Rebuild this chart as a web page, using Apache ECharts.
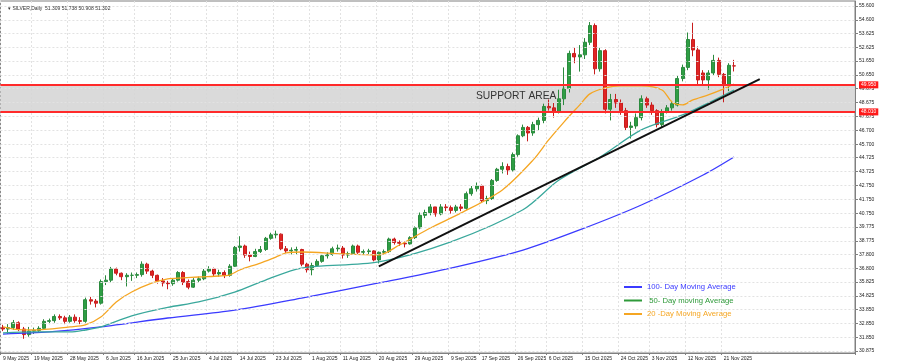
<!DOCTYPE html>
<html><head><meta charset="utf-8">
<script src="https://cdn.jsdelivr.net/npm/echarts@6/dist/echarts.min.js"></script>
<style>html,body{margin:0;padding:0;background:#fff}#c{width:900px;height:363px}</style>
</head><body><div id="c"></div><script>
// ---- categories (trading days) ----
const dates = [
'2025-05-09',
'2025-05-12','2025-05-13','2025-05-14','2025-05-15','2025-05-16',
'2025-05-19','2025-05-20','2025-05-21','2025-05-22','2025-05-23',
'2025-05-26','2025-05-27','2025-05-28','2025-05-29','2025-05-30',
'2025-06-02','2025-06-03','2025-06-04','2025-06-05','2025-06-06',
'2025-06-09','2025-06-10','2025-06-11','2025-06-12','2025-06-13',
'2025-06-16','2025-06-17','2025-06-18','2025-06-19','2025-06-20',
'2025-06-23','2025-06-24','2025-06-25','2025-06-26','2025-06-27',
'2025-06-30','2025-07-01','2025-07-02','2025-07-03','2025-07-04',
'2025-07-07','2025-07-08','2025-07-09','2025-07-10','2025-07-11',
'2025-07-14','2025-07-15','2025-07-16','2025-07-17','2025-07-18',
'2025-07-21','2025-07-22','2025-07-23','2025-07-24','2025-07-25',
'2025-07-28','2025-07-29','2025-07-30','2025-07-31','2025-08-01',
'2025-08-04','2025-08-05','2025-08-06','2025-08-07','2025-08-08',
'2025-08-11','2025-08-12','2025-08-13','2025-08-14','2025-08-15',
'2025-08-18','2025-08-19','2025-08-20','2025-08-21','2025-08-22',
'2025-08-25','2025-08-26','2025-08-27','2025-08-28','2025-08-29',
'2025-09-01','2025-09-02','2025-09-03','2025-09-04','2025-09-05',
'2025-09-08','2025-09-09','2025-09-10','2025-09-11','2025-09-12',
'2025-09-15','2025-09-16','2025-09-17','2025-09-18','2025-09-19',
'2025-09-22','2025-09-23','2025-09-24','2025-09-25','2025-09-26',
'2025-09-29','2025-09-30','2025-10-01','2025-10-02','2025-10-03',
'2025-10-06','2025-10-07','2025-10-08','2025-10-09','2025-10-10',
'2025-10-13','2025-10-14','2025-10-15','2025-10-16','2025-10-17',
'2025-10-20','2025-10-21','2025-10-22','2025-10-23','2025-10-24',
'2025-10-27','2025-10-28','2025-10-29','2025-10-30','2025-10-31',
'2025-11-03','2025-11-04','2025-11-05','2025-11-06','2025-11-07',
'2025-11-10','2025-11-11','2025-11-12','2025-11-13','2025-11-14',
'2025-11-17','2025-11-18','2025-11-19','2025-11-20','2025-11-21',
'2025-11-24','2025-11-25'];
// empty space on the right of the chart (chart shift)
const futureDates = [
'2025-11-26','2025-11-27','2025-11-28',
'2025-12-01','2025-12-02','2025-12-03','2025-12-04','2025-12-05',
'2025-12-08','2025-12-09','2025-12-10','2025-12-11','2025-12-12',
'2025-12-15','2025-12-16','2025-12-17','2025-12-18','2025-12-19',
'2025-12-22','2025-12-23','2025-12-24','2025-12-25','2025-12-26'];
const xLabelDates = ['2025-05-09','2025-05-19','2025-05-28','2025-06-06','2025-06-16','2025-06-25',
'2025-07-04','2025-07-14','2025-07-23','2025-08-01','2025-08-11','2025-08-20','2025-08-29',
'2025-09-09','2025-09-17','2025-09-26','2025-10-06','2025-10-15','2025-10-24','2025-11-03',
'2025-11-12','2025-11-21'];
const yTicks = [30.875,31.850,32.850,33.850,34.825,35.825,36.800,37.800,38.775,39.775,40.750,41.750,
42.750,43.725,44.725,45.700,46.700,47.675,48.675,49.675,50.650,51.650,52.625,53.625,54.600,55.600];

// ---- OHLC: [open, close, low, high] ----
const candles = [
[32.55,32.45,32.30,32.75],
[32.45,32.55,32.10,32.80],[32.55,32.90,32.40,33.10],[32.90,32.45,32.30,33.00],[32.45,32.05,31.75,32.60],[32.05,32.30,31.90,32.60],
[32.30,32.35,32.10,32.55],[32.35,32.50,32.20,32.65],[32.50,33.00,32.40,33.15],[33.00,33.05,32.80,33.20],[33.05,33.35,32.90,33.50],
[33.35,33.25,33.10,33.50],[33.25,33.00,32.80,33.40],[33.00,33.30,32.90,33.45],[33.30,33.05,32.90,33.50],[33.05,33.00,32.80,33.30],
[33.00,34.55,32.90,34.70],[34.55,34.45,34.20,34.75],[34.45,34.30,34.00,34.60],[34.30,35.85,34.20,36.00],[35.85,35.95,35.60,36.30],
[35.95,36.75,35.80,36.90],[36.75,36.45,36.30,36.85],[36.45,36.20,35.95,36.50],[36.20,36.30,35.50,36.45],[36.30,36.30,35.90,36.50],
[36.30,36.35,36.10,36.50],[36.35,37.10,36.20,37.30],[37.10,36.60,36.40,37.20],[36.60,36.30,36.10,36.70],[36.30,35.90,35.70,36.35],
[35.90,35.75,35.50,36.10],[35.75,35.70,35.30,35.90],[35.70,35.95,35.55,36.10],[35.95,36.50,35.85,36.60],[36.50,35.80,35.60,36.60],
[35.85,35.45,35.30,36.00],[35.45,35.95,35.40,36.10],[35.95,36.05,35.80,36.20],[36.05,36.60,35.95,36.75],[36.60,36.75,36.50,36.95],
[36.75,36.40,36.20,36.85],[36.40,36.50,36.20,36.70],[36.50,36.30,36.10,36.65],[36.30,36.95,36.20,37.10],[36.95,38.30,36.90,38.40],
[38.30,38.40,38.00,39.10],[38.40,37.75,37.55,38.50],[37.75,37.65,37.30,38.00],[37.65,38.00,37.60,38.20],[38.00,38.15,37.90,38.40],
[38.15,38.95,38.05,39.05],[38.95,39.20,38.85,39.35],[39.20,39.25,38.95,39.50],[39.25,38.20,38.10,39.30],[38.20,38.05,37.90,38.40],
[38.05,38.10,37.80,38.30],[38.10,38.15,37.80,38.35],[38.15,37.10,36.95,38.20],[37.10,36.70,36.50,37.20],[36.70,37.00,36.30,37.20],
[37.00,37.30,36.90,37.45],[37.30,37.70,37.20,37.80],[37.70,37.80,37.50,37.95],[37.80,38.20,37.70,38.35],[38.20,38.25,38.00,38.50],
[38.25,37.75,37.50,38.40],[37.75,37.85,37.55,38.00],[37.85,38.40,37.80,38.50],[38.40,37.95,37.80,38.50],[37.95,38.00,37.80,38.15],
[38.00,38.05,37.80,38.20],[38.05,37.40,37.30,38.10],[37.40,37.95,37.15,38.00],[37.95,38.00,37.80,38.15],[38.00,38.90,37.90,39.00],
[38.90,38.65,38.50,39.00],[38.65,38.60,38.40,38.80],[38.60,38.55,38.30,38.75],[38.55,39.00,38.50,39.10],[39.00,39.70,38.90,39.80],
[39.70,40.60,39.60,40.80],[40.60,40.80,40.40,41.00],[40.80,41.20,40.60,41.40],[41.20,40.70,40.50,41.20],[40.70,41.20,40.60,41.40],
[41.20,41.15,40.90,41.40],[41.15,40.95,40.70,41.30],[40.95,41.20,40.80,41.35],[41.20,41.10,40.90,41.40],[41.10,42.15,41.00,42.30],
[42.15,42.50,42.00,42.70],[42.50,42.70,42.30,42.95],[42.70,41.65,41.50,42.80],[41.65,41.80,41.40,42.00],[41.80,43.10,41.70,43.20],
[43.10,43.90,43.00,44.00],[43.90,44.10,43.60,44.40],[44.10,43.85,43.50,44.30],[43.85,44.95,43.70,45.10],[44.95,46.30,44.80,46.40],
[46.30,46.90,46.20,47.10],[46.90,46.50,45.90,47.00],[46.50,47.10,46.30,47.30],[47.10,47.40,46.70,47.60],[47.40,48.40,47.20,48.60],
[48.40,48.30,48.10,48.90],[48.30,48.00,47.60,48.70],[48.00,48.95,47.90,49.60],[48.95,49.70,48.50,51.20],[49.70,52.20,49.40,52.40],
[52.20,51.95,51.50,52.60],[51.95,52.10,50.90,52.80],[52.10,53.00,51.80,53.30],[53.00,54.20,52.80,54.45],[54.20,51.10,50.70,54.35],
[51.10,52.40,50.90,52.60],[52.40,48.20,47.90,52.50],[48.20,48.90,47.40,49.30],[48.90,48.65,48.30,49.30],[48.65,48.10,47.80,48.90],
[48.10,46.90,46.70,48.30],[46.90,47.00,46.10,47.30],[47.00,47.60,46.80,47.90],[47.60,48.95,47.40,49.20],[48.95,48.50,48.30,49.10],
[48.50,48.10,47.80,48.70],[48.10,47.10,46.90,48.20],[47.10,48.00,46.90,48.20],[48.00,48.30,47.90,48.50],[48.30,48.60,48.10,48.80],
[48.50,50.40,48.40,50.60],[50.40,51.20,50.20,51.40],[51.20,53.20,51.00,53.70],[53.20,52.45,52.00,54.40],[52.45,50.30,49.90,52.70],
[50.80,50.30,50.00,51.00],[50.30,50.80,49.60,51.00],[50.80,51.70,50.60,52.10],[51.70,50.70,50.50,51.90],[50.70,49.95,48.70,50.80],
[49.95,51.35,49.50,51.50],[51.309,51.302,50.908,51.738]];

// ---- moving averages: [date, value] ----
const ma20 = [['2025-05-09',32.60],['2025-05-14',32.40],['2025-05-19',32.38],['2025-05-28',32.60],['2025-06-02',32.74],
['2025-06-05',33.31],['2025-06-10',34.39],['2025-06-13',35.10],['2025-06-19',35.75],['2025-06-24',36.04],['2025-06-27',36.11],
['2025-07-02',36.18],['2025-07-08',36.25],['2025-07-10',36.32],['2025-07-14',36.68],['2025-07-18',37.18],['2025-07-23',37.61],
['2025-07-25',37.90],['2025-07-30',37.97],['2025-08-11',37.83],['2025-08-20',37.76],['2025-08-26',38.47],['2025-09-03',39.69],
['2025-09-11',40.77],['2025-09-23',42.42],['2025-10-01',44.57],['2025-10-06',46.00],['2025-10-09',47.30],['2025-10-14',48.50],
['2025-10-16',49.30],['2025-10-21',49.73],['2025-10-24',49.87],['2025-10-30',49.87],['2025-11-05',49.58],['2025-11-07',48.70],
['2025-11-11',48.51],['2025-11-13',48.87],['2025-11-18',49.23],['2025-11-21',49.66],['2025-11-25',50.01]];
const ma50 = [['2025-05-09',32.17],['2025-05-19',32.24],['2025-05-28',32.24],['2025-06-02',32.38],['2025-06-05',32.60],
['2025-06-13',33.40],['2025-06-24',34.00],['2025-07-02',34.39],['2025-07-11',35.10],['2025-07-21',35.96],['2025-07-30',36.82],
['2025-08-20',37.26],['2025-09-09',38.70],['2025-09-29',41.00],['2025-10-08',43.13],['2025-10-20',44.78],['2025-10-30',46.72],
['2025-11-11',47.79],['2025-11-18',48.65],['2025-11-25',49.58]];
const ma100 = [['2025-05-09',32.09],['2025-05-22',32.24],['2025-06-05',32.60],['2025-06-24',33.24],['2025-07-11',33.81],
['2025-07-30',34.67],['2025-08-20',35.75],['2025-09-09',36.82],['2025-09-29',38.11],['2025-10-14',39.55],['2025-10-30',41.34],
['2025-11-17',43.49],['2025-11-25',44.78]];
const trendLine = [['2025-08-20',36.94],['2025-12-02',50.36]];
const supportTop = 49.950;
const supportBottom = 48.010;
const lastPrice = 51.302;
const titleText = 'SILVER,Daily  51.309 51.738 50.908 51.302';
const supportText = 'SUPPORT AREA';
const maNames = ['100- Day Moving Average', ' 50- Day moving Average', '20 -Day Moving Average'];

const FONT = 'Liberation Sans, Arial, sans-serif';
const MONTHS = ['Jan','Feb','Mar','Apr','May','Jun','Jul','Aug','Sep','Oct','Nov','Dec'];
const fmtDate = s => { const p = s.split('-'); return parseInt(p[2],10) + ' ' + MONTHS[parseInt(p[1],10)-1] + ' ' + p[0]; };
const allDates = dates.concat(futureDates);
const labelSet = new Set(xLabelDates);
const showIdx = (i, v) => labelSet.has(v);

const chart = echarts.init(document.getElementById('c'), null, {renderer: 'canvas'});
chart.setOption({
  animation: false,
  backgroundColor: '#ffffff',
  title: {text: '\u25BE ' + titleText, left: 3, top: 1,
    textStyle: {fontSize: 5, fontWeight: 'normal', color: '#333', fontFamily: FONT}},
  grid: {left: 0, right: 45, top: 1, bottom: 10, show: true, borderColor: '#808080', borderWidth: 1},
  legend: {
    orient: 'vertical', left: 619, top: 278, itemWidth: 18, itemHeight: 2, itemGap: 5.5, icon: 'rect',
    textStyle: {fontSize: 7.7, fontFamily: FONT}, selectedMode: false,
    data: [
      {name: maNames[0], itemStyle: {color: '#3b3bff'}, textStyle: {color: '#3b3bff'}},
      {name: maNames[1], itemStyle: {color: '#2f9a3a'}, textStyle: {color: '#2f9a3a'}},
      {name: maNames[2], itemStyle: {color: '#f5a623'}, textStyle: {color: '#f5a623'}}
    ]
  },
  xAxis: {
    type: 'category', data: allDates, boundaryGap: true,
    axisLine: {show: true, lineStyle: {color: '#808080'}},
    axisTick: {show: true, interval: showIdx, length: 2, lineStyle: {color: '#808080'}},
    axisLabel: {interval: showIdx, formatter: fmtDate, fontSize: 5, color: '#222', fontFamily: FONT,
      align: 'left', margin: 3, showMinLabel: true, hideOverlap: false},
    splitLine: {show: true, interval: showIdx, lineStyle: {color: '#e2e2e2', type: [2, 2], width: 1}}
  },
  yAxis: {
    type: 'value', position: 'right', min: 30.732, max: 55.958, scale: true,
    axisLine: {show: true, lineStyle: {color: '#808080'}},
    axisTick: {show: true, customValues: yTicks, length: 3, lineStyle: {color: '#808080'}},
    axisLabel: {customValues: yTicks, formatter: v => v.toFixed(3), fontSize: 5, color: '#222',
      fontFamily: FONT, margin: 4},
    splitLine: {show: false}
  },
  graphic: [{type: 'text', left: 476, top: 91, z: 10,
    style: {text: supportText, fontSize: 10.3, fill: '#333', fontFamily: FONT}}],
  series: [
    {name: 'grid', type: 'line', data: [], z: 1, silent: true,
      markLine: {symbol: 'none', silent: true, animation: false, label: {show: false},
        lineStyle: {color: '#e2e2e2', type: [2, 2], width: 1},
        data: yTicks.map(v => ({yAxis: v}))}},
    {name: 'support', type: 'line', data: [], z: 2, silent: true,
      markArea: {silent: true, itemStyle: {color: '#d6d6d6', opacity: 0.9},
        data: [[{yAxis: supportBottom}, {yAxis: supportTop}]]},
      markLine: {symbol: 'none', silent: true, animation: false,
        data: [
          {yAxis: supportTop, lineStyle: {color: '#ff2a2a', width: 2, type: 'solid'},
            label: {show: true, position: 'end', formatter: supportTop.toFixed(3), backgroundColor: '#ff1a1a',
              color: '#fff', fontSize: 5, padding: [1, 2], distance: 4, fontFamily: FONT}},
          {yAxis: supportBottom, lineStyle: {color: '#ff2a2a', width: 2, type: 'solid'},
            label: {show: true, position: 'end', formatter: supportBottom.toFixed(3), backgroundColor: '#ff1a1a',
              color: '#fff', fontSize: 5, padding: [1, 2], distance: 4, fontFamily: FONT}},
          {yAxis: lastPrice, lineStyle: {opacity: 0},
            label: {show: true, position: 'end', formatter: lastPrice.toFixed(3), backgroundColor: '#111',
              color: '#fff', fontSize: 5, padding: [1, 2], distance: 4, fontFamily: FONT}}
        ]}},
    {name: 'SILVER', type: 'candlestick', data: candles, z: 3, barWidth: 3.5,
      itemStyle: {color: '#2e9e44', color0: '#e02424', borderColor: '#2b8a3e', borderColor0: '#c81e1e', borderWidth: 1}},
    {name: maNames[0], type: 'line', data: ma100, z: 4, showSymbol: false, smooth: 0.3,
      lineStyle: {color: '#3b3bff', width: 1.3}, itemStyle: {color: '#3b3bff'}},
    {name: maNames[1], type: 'line', data: ma50, z: 4, showSymbol: false, smooth: 0.3,
      lineStyle: {color: '#3aa89c', width: 1.3}, itemStyle: {color: '#3aa89c'}},
    {name: maNames[2], type: 'line', data: ma20, z: 4, showSymbol: false, smooth: 0.3,
      lineStyle: {color: '#f5a623', width: 1.3}, itemStyle: {color: '#f5a623'}},
    {name: 'trend', type: 'line', data: trendLine, z: 5, showSymbol: false,
      lineStyle: {color: '#111', width: 2}}
  ]
});
</script></body></html>
